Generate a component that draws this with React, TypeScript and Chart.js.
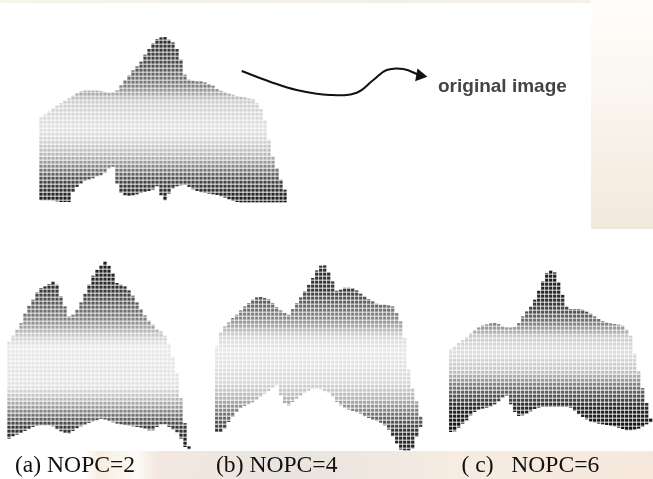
import React, { useEffect, useRef } from "react";
import { Chart, registerables } from "chart.js";

Chart.register(...registerables);

// Surface (original image): upper and lower outline of each mesh column
const originalTop = [117.7,114.7,111.7,108.7,106,103.3,101,98.7,96,93.7,91.7,91,91,91,91,91.3,92.3,93,92.7,90.7,85.7,80.3,75.7,70.7,66.7,62,55,49.3,43.7,39.3,37.7,37.3,40,42.7,49.3,60,75,80,81,81.7,81.7,82.7,84.3,86,89.3,91,92.7,94,95,96.3,97,97.7,98.7,99.3,103.3,109.3,120,140,156.7,168.3,180,190];
const originalBottom = [200,200,200,200.3,201,201.7,201.7,201.7,191.7,186.7,183.3,180.7,179.3,178,176,175,172.7,168.3,166.7,183.3,192.7,195,195.7,195,194,192.7,191.7,190.7,189.3,186,195,200,193.3,188.3,186,185,184.7,186.7,189,190.7,192,192.7,193.3,194,194.7,196,197.3,199,200.7,201.7,202,202,202,202,202,202,202,202,202,202,202,202];

// Surface (a) NOPC=2
const nopc2Top = [341.7,336,330,323.3,313.3,306,300,292.7,288.3,286.7,284.3,281.7,285,296.7,306.7,316.7,315,310,302.7,294,285,276,270,265.7,262,266,273.3,283.3,285,286.7,290.7,296,302.7,309.3,315.7,321,325,329.3,331.7,336,344,356.7,373.3,398.3,423.3,446.7];
const nopc2Bottom = [438.3,436,434.3,432.7,430.7,428.7,426.7,425.7,425,425,425,426,429,431,432.7,433.3,430.7,428,426,424.3,422.7,421.3,420,418.7,419.3,420.7,422,423.3,424,424.7,425.3,426,426.7,427.3,428.3,430,430,426.7,424,424,426.7,429.3,432,438.3,446.7,449];

// Surface (b) NOPC=4
const nopc4Top = [346.7,332.7,326.7,322.7,318.3,315,310.7,306.7,303.3,300,297.7,297.3,298.3,299.7,303.3,307.3,310.7,313.3,315,309.3,303.3,297.7,291.7,285,278.3,270.7,266,265.7,272.3,281.7,291,290,288,288,288.3,290.7,294,296.7,299.3,301.7,304,305,305,305.7,306.7,313.3,321.7,338.3,370,388.3,401.7,416.7];
const nopc4Bottom = [431.7,431.7,428.3,421.7,416.7,411.7,407.7,405.7,404,402,399.3,396.7,393.3,390.7,387.3,385,395,402.7,405,401.7,398.3,395.3,392.7,390.3,388.7,388.3,389,390.7,392.7,396.7,401.7,405,407.3,409.3,410.7,412,413.3,416,417.7,419.3,420.7,422.3,425,429.3,436,443.3,449.3,450,450,448.3,436.7,426.7];

// Surface (c) NOPC=6
const nopc6Top = [349.3,346.7,343.3,340.3,337.3,333.7,330.3,327.7,325.7,324.7,323.7,323.3,324.3,326.7,327.7,327.7,327.3,323.3,316.7,311.7,306.7,300,290.7,281.7,273.3,271,272.7,282.3,295,306.7,309.3,309.3,309.3,310,312,314,316.7,319.3,321.3,322.7,323.7,324.3,325,326,330,336,353.3,371.7,388.3,403.3,418.3];
const nopc6Bottom = [431.7,431,427.3,423.3,420,415,411.7,409.3,408.3,407.3,406.3,404,401,397.3,395.3,404,411.7,415.7,415,413.3,411,408.7,407.3,406.7,406.7,406.7,406.7,406.7,406.7,406.7,407.3,410.7,414,416.7,419,421.3,422.3,423.3,424,424.7,425.3,426,427.3,428.7,430,430,429.3,428.3,426.7,424,422];

// Arrow from the original surface to its caption
const arrowX = [241.7,270,296.7,330,356.7,373.3,386.7,403.3,420];
const arrowY = [71,81.7,90,95,92.7,80,70,69,75.5];
const captions = ["original image", "(a) NOPC=2", "(b) NOPC=4", "( c)   NOPC=6"];

type Stop = [number, number];
const shade: Record<string, Stop[]> = {
  original: [[37,45],[60,70],[85,130],[100,205],[130,225],[155,180],[180,70],[205,10]],
  a: [[262,30],[285,45],[300,85],[320,135],[335,205],[345,232],[385,225],[405,160],[425,60],[450,15]],
  b: [[265,45],[290,60],[300,95],[320,145],[335,215],[350,232],[380,215],[395,185],[415,110],[430,50],[451,30]],
  c: [[271,30],[300,45],[320,115],[335,200],[350,222],[370,195],[385,120],[405,40],[432,10]],
};

function toneAt(stops: Stop[], y: number) {
  if (y <= stops[0][0]) return stops[0][1];
  for (let i = 1; i < stops.length; i++) {
    if (y <= stops[i][0]) {
      const [y0, g0] = stops[i - 1];
      const [y1, g1] = stops[i];
      return g0 + ((g1 - g0) * (y - y0)) / (y1 - y0);
    }
  }
  return stops[stops.length - 1][1];
}

function meshFill(chart: Chart, stops: Stop[]) {
  const yScale = chart.scales.y;
  const top = stops[0][0];
  const bottom = stops[stops.length - 1][0] + 4;
  const p0 = yScale ? yScale.getPixelForValue(top) : NaN;
  const p1 = yScale ? yScale.getPixelForValue(bottom) : NaN;
  if (!Number.isFinite(p0) || !Number.isFinite(p1)) return "#888";
  const g = chart.ctx.createLinearGradient(0, p0, 0, p1);
  const span = bottom - top;
  const rowGap = 4;
  for (let y = top; y < bottom; y += rowGap) {
    const v = Math.round(toneAt(stops, y));
    const light = Math.round(v + (255 - v) * 0.6);
    const line = `rgb(${v},${v},${v})`;
    const gap = `rgb(${light},${light},${light})`;
    g.addColorStop((y - top) / span, line);
    g.addColorStop(Math.min(1, (y + 2.4 - top) / span), line);
    g.addColorStop(Math.min(1, (y + 2.6 - top) / span), gap);
    g.addColorStop(Math.min(1, (y + 3.9 - top) / span), gap);
  }
  return g;
}

const surface = (label: string, x0: number, tops: number[], bottoms: number[], stops: Stop[]) => ({
  type: "bar" as const,
  label,
  data: tops.map((t, i) => ({ x: x0 + i * 4, y: [bottoms[i], t] })),
  backgroundColor: (ctx: any) => meshFill(ctx.chart, stops),
  borderWidth: 0,
  barThickness: 2.6,
  grouped: false,
});

const captionPlugin = {
  id: "captions",
  afterDatasetsDraw(chart: Chart) {
    const { ctx, scales } = chart;
    const put = (t: string, x: number, y: number, font: string, color: string) => {
      ctx.save();
      ctx.font = font;
      ctx.fillStyle = color;
      ctx.textBaseline = "alphabetic";
      ctx.fillText(t, scales.x.getPixelForValue(x), scales.y.getPixelForValue(y));
      ctx.restore();
    };
    const serif = '23.6px "Liberation Serif"';
    put(captions[0], 438, 91.5, 'bold 19px "Liberation Sans"', "#444");
    put(captions[1], 15, 471.5, serif, "#111");
    put(captions[2], 216, 471.5, serif, "#111");
    put(captions[3], 461.5, 471.5, serif, "#111");
  },
};

export default function App() {
  const ref = useRef<HTMLCanvasElement>(null);
  useEffect(() => {
    const chart = new Chart(ref.current!, {
      type: "bar",
      data: {
        datasets: [
          surface("original image", 41, originalTop, originalBottom, shade.original),
          surface("NOPC=2", 9, nopc2Top, nopc2Bottom, shade.a),
          surface("NOPC=4", 216.7, nopc4Top, nopc4Bottom, shade.b),
          surface("NOPC=6", 450.7, nopc6Top, nopc6Bottom, shade.c),
          {
            type: "line" as const,
            label: "arrow",
            data: arrowX.map((x, i) => ({ x, y: arrowY[i] })),
            borderColor: "#111",
            borderWidth: 2,
            tension: 0.4,
            pointRadius: arrowX.map((_, i) => (i === arrowX.length - 1 ? 7.5 : 0)),
            pointStyle: "triangle",
            pointRotation: 100,
            pointBackgroundColor: "#111",
            pointBorderWidth: 0,
          },
        ] as any,
      },
      options: {
        responsive: false,
        animation: false,
        layout: { padding: 0, autoPadding: false },
        plugins: { legend: { display: false }, tooltip: { enabled: false } },
        scales: {
          x: { type: "linear", min: 0, max: 653, display: false, offset: false },
          y: { type: "linear", min: 0, max: 479, reverse: true, display: false, offset: false },
        },
      },
      plugins: [captionPlugin],
    });
    return () => chart.destroy();
  }, []);

  return (
    <div
      style={{
        position: "absolute",
        left: 0,
        top: 0,
        width: 653,
        height: 479,
        overflow: "hidden",
        background: [
          "linear-gradient(90deg,#fff 0,#fff 13%,#f7eee0 15%,#fdfaf5 21%,#f3e8e0 24%,#e9e4df 45%,#f6ece2 70%,#f6e8dc 100%) 0 451px/100% 28px no-repeat",
          "linear-gradient(#fffefb,#fbf7f1 35%,#f3e8dc) 591px 0/62px 229px no-repeat",
          "linear-gradient(90deg,#f7f4ea,#f2eee8 60%,#f7f2ea) 0 0/100% 3px no-repeat",
          "#fff",
        ].join(","),
      }}
    >
      <canvas ref={ref} width={653} height={479} style={{ display: "block", filter: "blur(0.55px)" }} />
    </div>
  );
}
